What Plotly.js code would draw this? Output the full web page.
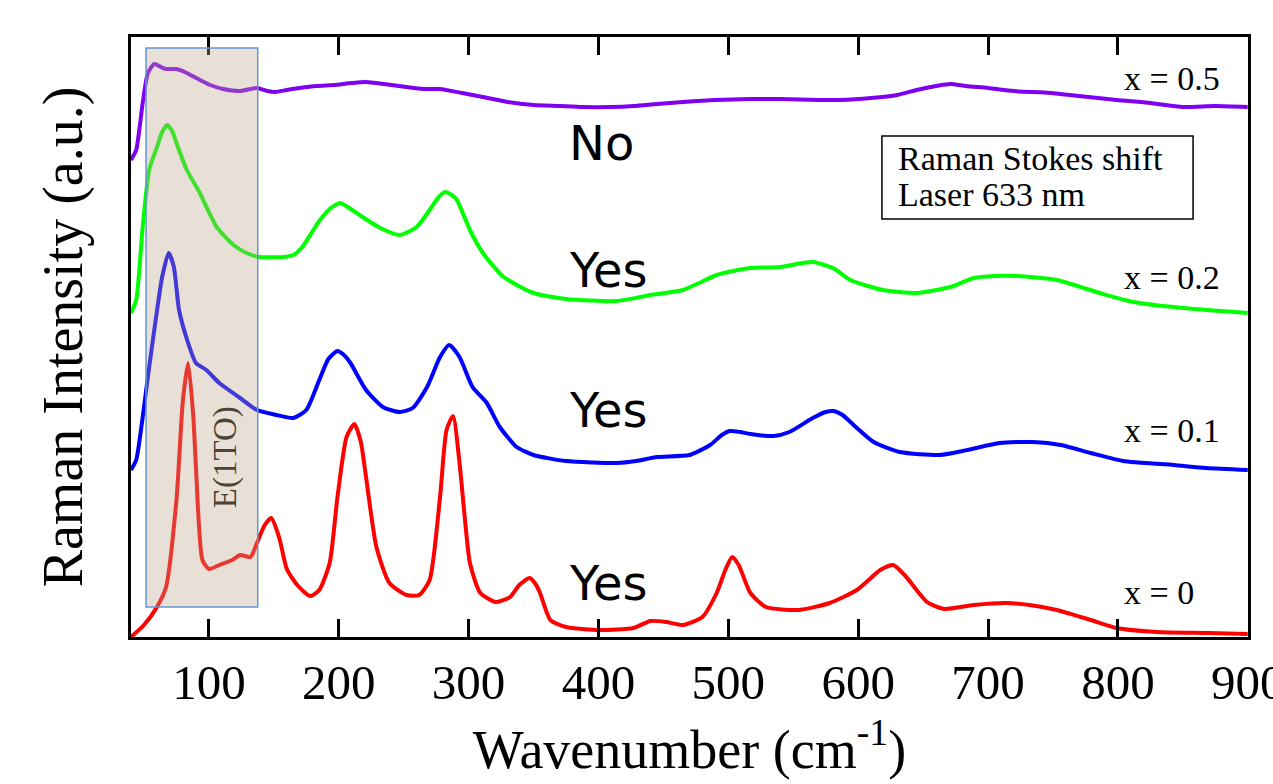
<!DOCTYPE html>
<html>
<head>
<meta charset="utf-8">
<script src="https://cdn.plot.ly/plotly-3.0.1.min.js"></script>
<style>html,body{margin:0;padding:0;background:#fff;}#chart{width:1273px;height:784px;}</style>
</head>
<body>
<div id="chart"></div>
<script>
// Wavenumber (cm^-1) and intensity (a.u., vertically offset) for each composition
const x0_wn = [40,50,60,67,75,80,84,88,90,95,100,108,118,124,132,137,143,148,154,160,168,178,185,193,199,206,212,217,221,229,239,252,262,270,278,283,288,293,297,301,309,321,332,339,347,352,355,363,375,401,427,440,452,465,480,491,498,503,508,517,529,554,578,599,617,627,637,653,666,689,714,732,753,779,799,830,870,900];
const x0_int = [0,12,30,50,137,237,274,220,170,77,68,72,77,82,80,94,112,119,100,68,52,41,47,74,140,200,213,195,160,90,54,42,42,57,140,207,221,174,120,74,44,35,40,52,59,52,44,17,10,7,9,16,15,12,20,44,68,80,72,44,30,27,34,47,67,72,60,35,28,32,34,32,27,17,9,5,4,3];

const x01_wn = [40,44,50,54,59,64,69,73,77,84,90,98,108,124,137,152,165,175,185,192,199,204,209,221,234,247,257,268,278,285,293,303,314,324,337,350,375,414,429,445,470,486,495,501,509,517,535,547,565,575,581,588,594,612,632,663,684,709,735,756,779,804,843,868,900];
const x01_int = [167,177,230,270,317,360,384,370,327,294,274,267,254,239,227,222,219,227,257,278,286,282,274,247,230,225,229,250,280,292,280,250,234,210,190,182,176,174,176,180,182,192,202,206,205,203,201,205,219,225,226,222,215,195,185,182,187,194,195,192,184,176,172,169,167];

const x02_wn = [40,44,49,54,60,64,68,72,75,83,93,106,119,129,139,157,165,172,178,185,193,201,208,216,232,247,260,270,277,282,287,291,301,311,327,350,375,414,440,465,491,500,517,540,557,565,574,582,594,619,645,671,689,705,722,753,786,812,850,900];
const x02_int = [324,337,410,467,490,505,512,505,494,467,444,410,392,384,380,380,382,390,402,416,428,434,429,422,409,402,410,427,440,445,442,437,407,384,360,344,338,336,342,347,362,365,369,370,374,375,372,368,357,347,344,350,359,361,361,357,344,335,329,324];

const x05_wn = [40,44,49,53,58,63,67,75,83,93,101,111,124,137,145,151,160,170,183,196,210,221,235,252,265,278,295,311,330,350,370,388,410,427,445,465,490,517,540,570,586,610,630,645,660,671,683,700,720,748,770,799,825,850,875,900];
const x05_int = [477,487,534,564,573,570,568,568,564,557,552,548,546,549,546,545,547,549,551,552,554,555,553,550,548,548,544,540,535,532,531,530,530,531,533,535,537,538,538,537,537,539,542,547,551,553,551,549,546,544,541,537,534,530,531,530];

const seriesNames = ['x = 0','x = 0.1','x = 0.2','x = 0.5'];
const seriesColors = ['#ff0000','#0000ff','#00ff00','#7f00f0'];
const validity = ['Yes','Yes','Yes','No'];
const tickVals = [100,200,300,400,500,600,700,800,900];

const xs = [x0_wn, x01_wn, x02_wn, x05_wn];
const ys = [x0_int, x01_int, x02_int, x05_int];

const traces = xs.map((x, i) => ({
  x: x, y: ys[i], type: 'scatter', mode: 'lines', name: seriesNames[i],
  line: {color: seriesColors[i], width: 4, shape: 'spline', smoothing: 0.6},
  hoverinfo: 'x+y+name'
}));

const serif = 'Liberation Serif, Times New Roman, serif';
const sans = 'DejaVu Sans, Verdana, sans-serif';

// label positions
const labelX = 803;
const labelY = [45, 207, 360, 559];
const ynX = 376;
const ynY = [54, 227, 367, 494];

const annotations = [];
seriesNames.forEach((n, i) => {
  annotations.push({x: labelX, y: labelY[i], xref: 'x', yref: 'y', text: n, showarrow: false,
    xanchor: 'left', yanchor: 'middle', font: {family: serif, size: 34, color: '#000'}});
  annotations.push({x: ynX, y: ynY[i], xref: 'x', yref: 'y', text: validity[i], showarrow: false,
    xanchor: 'left', yanchor: 'middle', font: {family: sans, size: 48, color: '#000'}});
});
annotations.push({x: 629, y: 479, xref: 'x', yref: 'y', text: 'Raman Stokes shift', showarrow: false,
  xanchor: 'left', yanchor: 'middle', font: {family: serif, size: 34, color: '#000'}});
annotations.push({x: 629, y: 443, xref: 'x', yref: 'y', text: 'Laser 633 nm', showarrow: false,
  xanchor: 'left', yanchor: 'middle', font: {family: serif, size: 34, color: '#000'}});
annotations.push({x: 112.6, y: 180, xref: 'x', yref: 'y', text: 'E(1TO)', showarrow: false, textangle: -90,
  xanchor: 'center', yanchor: 'middle', font: {family: serif, size: 33, color: '#4d4336'}});

const shapes = [
  {type: 'rect', xref: 'x', yref: 'y', x0: 51.6, x1: 137.6, y0: 30, y1: 589, layer: 'above',
   fillcolor: 'rgb(189,164,141)', opacity: 0.35, line: {width: 0}},
  {type: 'rect', xref: 'x', yref: 'y', x0: 51.6, x1: 137.6, y0: 30, y1: 589, layer: 'above',
   fillcolor: 'rgba(0,0,0,0)', line: {color: 'rgb(100,150,205)', width: 1.5}},
  {type: 'rect', xref: 'x', yref: 'y', x0: 618.3, x1: 857.9, y0: 418, y1: 501, layer: 'below',
   fillcolor: '#ffffff', line: {color: '#000', width: 1.5}}
];

const layout = {
  width: 1273, height: 784,
  margin: {l: 131, r: 25, t: 37, b: 147},
  paper_bgcolor: '#ffffff', plot_bgcolor: '#ffffff',
  showlegend: false,
  xaxis: {
    range: [40, 900.2], tickmode: 'array', tickvals: tickVals, ticktext: tickVals.map(String),
    ticks: 'inside', ticklen: 18, tickwidth: 3, tickcolor: '#000',
    showline: true, linewidth: 3, linecolor: '#000', mirror: 'ticks',
    showgrid: false, zeroline: false, ticklabeloverflow: 'allow',
    tickfont: {family: serif, size: 49, color: '#000'},
    title: {text: 'Wavenumber (cm<sup>-1</sup>)', font: {family: serif, size: 54, color: '#000'}, standoff: 22}
  },
  yaxis: {
    range: [0, 600], showticklabels: false, ticks: '',
    showline: true, linewidth: 3, linecolor: '#000', mirror: true,
    showgrid: false, zeroline: false,
    title: {text: 'Raman Intensity (a.u.)', font: {family: serif, size: 56, color: '#000'}, standoff: 28}
  },
  annotations: annotations,
  shapes: shapes
};

Plotly.newPlot('chart', traces, layout, {displayModeBar: false, staticPlot: true});
</script>
</body>
</html>
